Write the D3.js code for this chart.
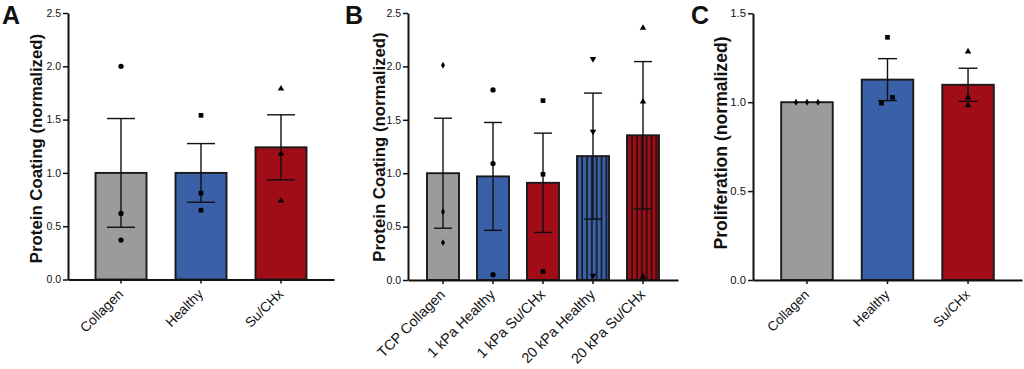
<!DOCTYPE html>
<html lang="en">
<head>
<meta charset="utf-8">
<title>Protein coating and proliferation</title>
<script src="https://d3js.org/d3.v7.min.js"></script>
<style>
  body { margin: 0; background: #fff; }
  svg { display: block; font-family: "Liberation Sans", Arial, sans-serif; }
</style>
</head>
<body>
<svg id="chart" width="1024" height="369"></svg>
<script>
// ---- data ----
// A: protein coating on collagen gels
const catsA = ["Collagen", "Healthy", "Su/CHx"];
const meanA = [1.0, 1.0, 1.24];
const semA  = [0.51, 0.275, 0.305];
const ptsA  = [[2.0, 0.62, 0.37], [1.54, 0.81, 0.65], [1.79, 1.18, 0.74]];

// B: protein coating on TCP / PA gels
const catsB = ["TCP Collagen", "1 kPa Healthy", "1 kPa Su/CHx", "20 kPa Healthy", "20 kPa Su/CHx"];
const meanB = [1.0, 0.97, 0.91, 1.16, 1.355];
const semB  = [0.515, 0.505, 0.465, 0.59, 0.69];
const ptsB  = [[2.01, 0.64, 0.35], [1.78, 1.09, 0.05], [1.68, 0.99, 0.08], [2.07, 1.39, 0.04], [2.36, 1.67, 0.03]];

// C: proliferation
const catsC = ["Collagen", "Healthy", "Su/CHx"];
const meanC = [1.0, 1.127, 1.098];
const semC  = [0, 0.118, 0.093];
const ptsC  = [[1.0, 1.0, 1.0], [1.365, 0.995, 1.027], [1.285, 1.027, 0.982]];

const yTicksAB = [0, 0.5, 1.0, 1.5, 2.0, 2.5];
const yTicksC  = [0, 0.5, 1.0, 1.5];

// ---- styling ----
const GREY = "#9b9b9b", BLUE = "#3a60a8", RED = "#a00d16";

const panels = [
  { letter: "A", lx: 2, cats: catsA, mean: meanA, sem: semA, pts: ptsA, ticks: yTicksAB, ymax: 2.5,
    left: 68, right: 334, top: 13, bottom: 279.5, pi: 0.3625, po: 0.344, cap: 28,
    tickFont: 10.5, xFont: 13.7, titleFont: 16.8,
    title: "Protein Coating (normalized)", titleX: 41.5, titleY: 148.5,
    fills: [GREY, BLUE, RED], stripes: [false, false, false],
    shapes: ["circle", "square", "triangle"], jitter: null },
  { letter: "B", lx: 345, cats: catsB, mean: meanB, sem: semB, pts: ptsB, ticks: yTicksAB, ymax: 2.5,
    left: 408, right: 678, top: 13, bottom: 280, pi: 0.36, po: 0.38, cap: 18,
    tickFont: 10.5, xFont: 14.3, titleFont: 16.8,
    title: "Protein Coating (normalized)", titleX: 385, titleY: 147,
    fills: [GREY, BLUE, RED, BLUE, RED], stripes: [false, false, false, true, true],
    shapes: ["diamond", "circle", "square", "down", "triangle"], jitter: null },
  { letter: "C", lx: 691, cats: catsC, mean: meanC, sem: semC, pts: ptsC, ticks: yTicksC, ymax: 1.5,
    left: 753, right: 1022, top: 13.3, bottom: 280, pi: 0.36, po: 0.35, cap: 19,
    tickFont: 11.3, xFont: 13.3, titleFont: 17.6,
    title: "Proliferation (normalized)", titleX: 727, titleY: 143,
    fills: [GREY, BLUE, RED], stripes: [false, false, false],
    shapes: ["diamond", "square", "triangle"],
    jitter: [[-11, 0, 11], [0, -6, 5], [0, 0, 0]] }
];

const svg = d3.select("#chart");
const defs = svg.append("defs");

function symbolPath(kind) {
  if (kind === "circle") return d3.symbol(d3.symbolCircle, 22)();
  if (kind === "square") return d3.symbol(d3.symbolSquare, 22)();
  if (kind === "diamond") return d3.symbol(d3.symbolDiamond, 14)();
  return d3.symbol(d3.symbolTriangle, 18)();   // triangle / down
}

panels.forEach((p, pi) => {
  const g = svg.append("g");
  const y = d3.scaleLinear().domain([0, p.ymax]).range([p.bottom, p.top]);
  const x = d3.scaleBand().domain(p.cats).range([p.left, p.right])
              .paddingInner(p.pi).paddingOuter(p.po);
  const bw = x.bandwidth();

  // stripe patterns for the 20 kPa bars
  p.cats.forEach((c, i) => {
    if (!p.stripes[i]) return;
    const pat = defs.append("pattern")
      .attr("id", "stripe" + pi + "_" + i)
      .attr("patternUnits", "userSpaceOnUse")
      .attr("x", x(c) + 1.2).attr("y", 0)
      .attr("width", 4.85).attr("height", 10);
    pat.append("rect").attr("width", 4.85).attr("height", 10).attr("fill", p.fills[i]);
    pat.append("rect").attr("x", 3.2).attr("width", 1.5).attr("height", 10).attr("fill", "#111");
  });

  // bars
  g.selectAll("rect.bar")
    .data(p.cats)
    .join("rect")
    .attr("class", "bar")
    .attr("x", d => x(d))
    .attr("y", (d, i) => y(p.mean[i]))
    .attr("width", bw)
    .attr("height", (d, i) => y(0) - y(p.mean[i]))
    .attr("fill", (d, i) => p.stripes[i] ? "url(#stripe" + pi + "_" + i + ")" : p.fills[i])
    .attr("stroke", "#1a1a1a")
    .attr("stroke-width", 1.9);

  // error bars
  p.cats.forEach((c, i) => {
    if (p.sem[i] === 0) return;
    const cx = x(c) + bw / 2;
    const hi = y(p.mean[i] + p.sem[i]), lo = y(p.mean[i] - p.sem[i]);
    const eg = g.append("g").attr("stroke", "#111").attr("stroke-width", 1.4);
    eg.append("line").attr("x1", cx).attr("x2", cx).attr("y1", hi).attr("y2", lo);
    eg.append("line").attr("x1", cx - p.cap / 2).attr("x2", cx + p.cap / 2).attr("y1", hi).attr("y2", hi);
    eg.append("line").attr("x1", cx - p.cap / 2).attr("x2", cx + p.cap / 2).attr("y1", lo).attr("y2", lo);
  });

  // individual points
  p.cats.forEach((c, i) => {
    const cx = x(c) + bw / 2;
    p.pts[i].forEach((v, j) => {
      const dx = p.jitter ? p.jitter[i][j] : 0;
      const rot = p.shapes[i] === "down" ? " rotate(180)" : "";
      g.append("path")
        .attr("d", symbolPath(p.shapes[i]))
        .attr("transform", "translate(" + (cx + dx) + "," + y(v) + ")" + rot)
        .attr("fill", "#000");
    });
  });

  // y axis
  const ya = g.append("g")
    .attr("transform", "translate(" + p.left + ",0)")
    .call(d3.axisLeft(y).tickValues(p.ticks).tickFormat(d3.format(".1f")).tickSize(5).tickSizeOuter(0));
  ya.attr("font-size", null).attr("font-family", null);
  ya.select(".domain").attr("stroke", "#111").attr("stroke-width", 2);
  ya.selectAll(".tick line").attr("stroke", "#111").attr("stroke-width", 1.5);
  ya.selectAll(".tick text")
    .style("font-size", p.tickFont + "px")
    .style("font-family", "'Liberation Sans', Arial, sans-serif")
    .attr("fill", "#111").attr("x", -7);

  // x axis
  const xa = g.append("g")
    .attr("transform", "translate(0," + p.bottom + ")")
    .call(d3.axisBottom(x).tickSize(4).tickSizeOuter(0));
  xa.attr("font-size", null).attr("font-family", null);
  xa.select(".domain").attr("stroke", "#111").attr("stroke-width", 2);
  xa.selectAll(".tick line").attr("stroke", "#111").attr("stroke-width", 1.5);
  xa.selectAll(".tick text")
    .style("font-size", p.xFont + "px")
    .style("font-family", "'Liberation Sans', Arial, sans-serif")
    .attr("fill", "#111")
    .attr("text-anchor", "end")
    .attr("x", 0).attr("y", 0).attr("dy", 0)
    .attr("transform", "translate(3,15.5) rotate(-45)");

  // y title
  g.append("text")
    .attr("transform", "translate(" + p.titleX + "," + p.titleY + ") rotate(-90)")
    .attr("text-anchor", "middle")
    .style("font-size", p.titleFont + "px")
    .attr("font-weight", "bold")
    .attr("fill", "#111")
    .text(p.title);

  // panel letter
  g.append("text")
    .attr("x", p.lx).attr("y", 24)
    .style("font-size", "25px")
    .attr("font-weight", "bold")
    .attr("fill", "#111")
    .text(p.letter);
});
</script>
</body>
</html>
